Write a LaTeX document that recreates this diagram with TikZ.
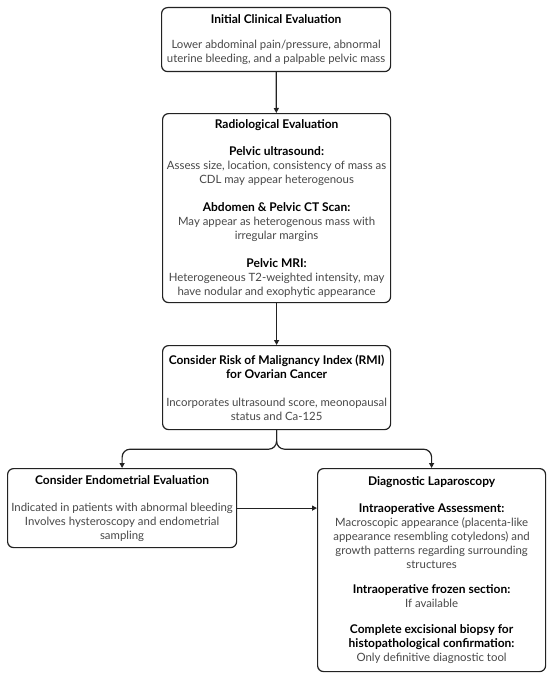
\documentclass[tikz,border=0pt]{standalone}
\usepackage{fontspec}
\setmainfont{Lato}
\usetikzlibrary{arrows.meta}
\definecolor{bodygray}{HTML}{484848}
\definecolor{linec}{HTML}{222222}
\newcommand{\ttl}[1]{{\color{black}\bfseries\fontsize{12}{14}\selectfont #1}}
\begin{document}
\begin{tikzpicture}[x=1pt,y=-1pt,
  box/.style={draw=linec, line width=1.2pt, rounded corners=6pt, align=center,
    font=\fontsize{11.4}{14}\selectfont, text=bodygray, inner sep=0pt, anchor=north west},
  arr/.style={draw=linec, line width=1.2pt, -{Triangle[length=5pt,width=5pt]}}]
\useasboundingbox[fill=white] (0,0) rectangle (550,677);

\node[box, minimum width=229pt, minimum height=64pt] (b1) at (161,7)
  {\ttl{Initial Clinical Evaluation}\\[11pt]
   Lower abdominal pain/pressure, abnormal\\
   uterine bleeding, and a palpable pelvic mass};

\node[box, minimum width=228pt, minimum height=189pt] (b2) at (162,113)
  {\ttl{Radiological Evaluation}\\[13pt]
   \ttl{Pelvic ultrasound:}\\
   Assess size, location, consistency of mass as\\
   CDL may appear heterogenous\\[14pt]
   \ttl{Abdomen \& Pelvic CT Scan:}\\
   May appear as heterogenous mass with\\
   irregular margins\\[14pt]
   \ttl{Pelvic MRI:}\\
   Heterogeneous T2-weighted intensity, may\\
   have nodular and exophytic appearance};

\node[box, minimum width=228pt, minimum height=84pt] (b3) at (162,345)
  {\ttl{Consider Risk of Malignancy Index (RMI)}\\
   \ttl{for Ovarian Cancer}\\[14pt]
   Incorporates ultrasound score, meonopausal\\
   status and Ca-125};

\node[box, minimum width=229pt, minimum height=79pt] (b4) at (7,468)
  {\ttl{Consider Endometrial Evaluation}\\[13pt]
   Indicated in patients with abnormal bleeding\\
   Involves hysteroscopy and endometrial\\
   sampling};

\node[box, minimum width=228pt, minimum height=203pt] (b5) at (317,468)
  {\ttl{Diagnostic Laparoscopy}\\[13pt]
   \ttl{Intraoperative Assessment:}\\
   Macroscopic appearance (placenta-like\\
   appearance resembling cotyledons) and\\
   growth patterns regarding surrounding\\
   structures\\[11pt]
   \ttl{Intraoperative frozen section:}\\
   If available\\[12pt]
   \ttl{Complete excisional biopsy for}\\
   \ttl{histopathological confirmation:}\\
   Only definitive diagnostic tool};

\draw[arr] (b1) -- (b2);
\draw[arr] (b2) -- (b3);
\draw[arr, rounded corners=8pt] (b3.south) -- ++(0,19) -| (b4.north);
\draw[arr, rounded corners=8pt] (b3.south) -- ++(0,19) -| (b5.north);
\draw[arr] (b4.east) -- (b4.east -| b5.west);
\end{tikzpicture}
\end{document}
